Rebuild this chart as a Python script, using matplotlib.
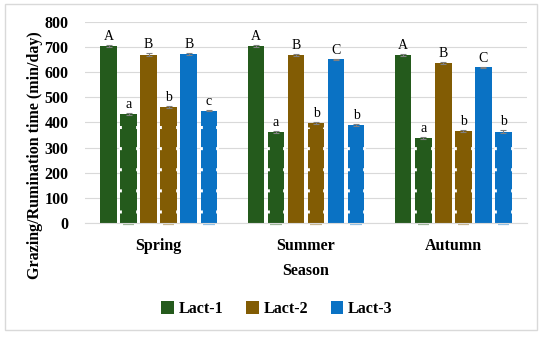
import matplotlib
matplotlib.use("Agg")
import matplotlib.pyplot as plt
import numpy as np
from matplotlib.patches import Rectangle, Patch

seasons = ["Spring", "Summer", "Autumn"]
groups = ["Lact-1", "Lact-2", "Lact-3"]
grazing = {
    "Lact-1": [706, 706, 670],
    "Lact-2": [670, 667, 636],
    "Lact-3": [672, 651, 619],
}
rumination = {
    "Lact-1": [432, 362, 338],
    "Lact-2": [460, 398, 368],
    "Lact-3": [447, 389, 364],
}
graz_err = {"Lact-1": [4, 4, 4], "Lact-2": [5, 4, 4], "Lact-3": [5, 3, 3]}
rum_err = {"Lact-1": [4, 4, 4], "Lact-2": [4, 4, 4], "Lact-3": [3, 4, 5]}
graz_letters = {"Lact-1": ["A", "A", "A"], "Lact-2": ["B", "B", "B"], "Lact-3": ["B", "C", "C"]}
rum_letters = {"Lact-1": ["a", "a", "a"], "Lact-2": ["b", "b", "b"], "Lact-3": ["c", "b", "b"]}
colors = {"Lact-1": "#245a1c", "Lact-2": "#825c04", "Lact-3": "#0a72c4"}

serif = ["Liberation Serif", "DejaVu Serif"]

fig = plt.figure(figsize=(5.5, 3.37), dpi=100)
ax = fig.add_axes([85/550, 1-223/337, (527-85)/550, (223-22)/337])

x = np.arange(len(seasons))
step = 0.136
width = 0.112
offsets = (np.arange(6) - 2.5) * step

for gi, g in enumerate(groups):
    col = colors[g]
    xg = x + offsets[2*gi]
    xr = x + offsets[2*gi+1]
    ax.bar(xg, grazing[g], width, color=col, zorder=2)
    ax.errorbar(xg, grazing[g], yerr=graz_err[g], fmt="none", ecolor="#808080",
                elinewidth=0.8, capsize=2.5, capthick=0.8, zorder=3)
    ax.bar(xr, rumination[g], width, color=col, zorder=2)
    ax.errorbar(xr, rumination[g], yerr=rum_err[g], fmt="none", ecolor="#808080",
                elinewidth=0.8, capsize=2.5, capthick=0.8, zorder=3)
    # faint base marks under rumination bars
    ax.hlines([-3] * len(xr), xr - width * 0.35, xr + width * 0.35, color=col,
              alpha=0.45, lw=1.6, clip_on=False, zorder=1)
    # white notches along rumination bar sides
    for xi, h in zip(xr, rumination[g]):
        for xe in (xi - width/2, xi + width/2):
            ax.plot([xe, xe], [0, h - 15], color="white", lw=2.0,
                    linestyle=(4, (1.1, 6.5)), solid_capstyle="butt", zorder=4)
    for xi, h, e, t in zip(xg, grazing[g], graz_err[g], graz_letters[g]):
        ax.text(xi, h + e + 8, t, ha="center", va="bottom", fontsize=10,
                family=serif)
    for xi, h, e, t in zip(xr, rumination[g], rum_err[g], rum_letters[g]):
        ax.text(xi, h + e + 8, t, ha="center", va="bottom", fontsize=10,
                family=serif)

ax.set_ylim(0, 800)
ax.set_xlim(-0.5, 2.5)
ax.set_yticks(np.arange(0, 801, 100))
ax.yaxis.grid(True, color="#d9d9d9", lw=0.8, zorder=0)
ax.set_axisbelow(True)
for s in ["top", "right", "left"]:
    ax.spines[s].set_visible(False)
ax.spines["bottom"].set_color("#d9d9d9")
ax.tick_params(length=0)
ax.tick_params(axis="y", pad=12)
ax.tick_params(axis="x", pad=11)
ax.set_xticks(x)
ax.set_xticklabels(seasons)
for lab in ax.get_xticklabels() + ax.get_yticklabels():
    lab.set_fontfamily(serif)
    lab.set_fontweight("bold")
    lab.set_fontsize(11.5)

ax.set_xlabel("Season", fontsize=11.5, fontweight="bold", family=serif, labelpad=6)
ax.set_ylabel("Grazing/Rumination time (min/day)", fontsize=11.5, fontweight="bold",
              family=serif)
ax.yaxis.set_label_coords(-0.095, 0.34)

handles = [Patch(facecolor=colors[g]) for g in groups]
fig.legend(handles, groups, loc="center", bbox_to_anchor=(277/550, 1-309/337),
           ncol=3, frameon=False, handlelength=0.8, handleheight=0.8,
           handletextpad=0.3, columnspacing=1.4,
           prop={"family": serif, "weight": "bold", "size": 11.5})

fig.patches.append(Rectangle((5/550, 1-330/337), 532/550, 326/337,
                             transform=fig.transFigure, fill=False,
                             edgecolor="#d9d9d9", lw=1))

fig.savefig("out.png", dpi=100)
